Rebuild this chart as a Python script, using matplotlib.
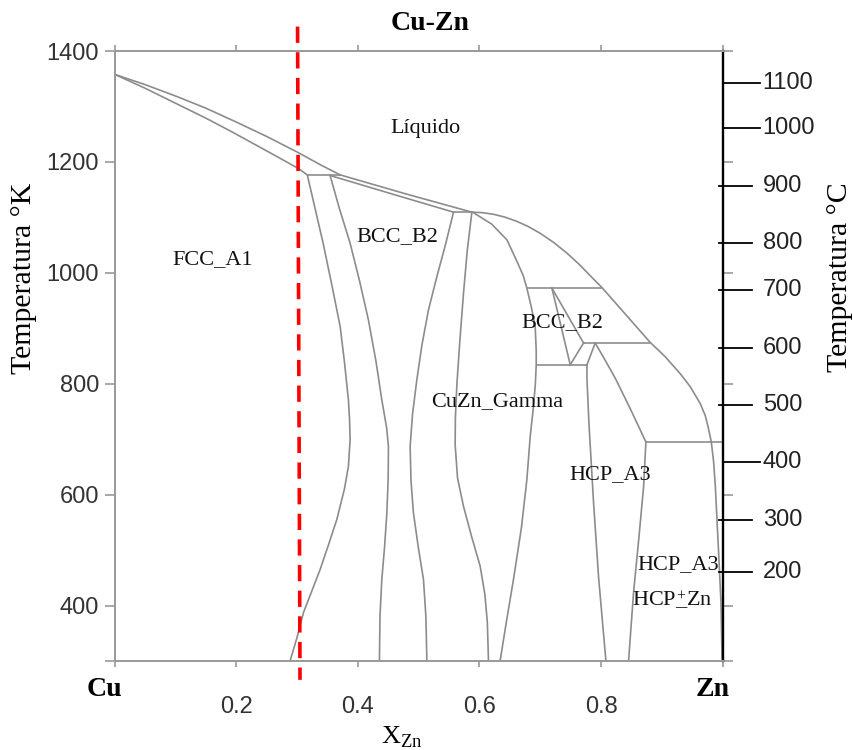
import numpy as np
import matplotlib
matplotlib.use("Agg")
import matplotlib.pyplot as plt

plt.rcParams['mathtext.fontset'] = 'custom'
plt.rcParams['mathtext.rm'] = 'Liberation Serif'

# ---- phase boundaries (x = mole fraction Zn, T in K) ----
fcc_liq_x = [0, 0.05, 0.10, 0.15, 0.20, 0.25, 0.30, 0.34, 0.371]
fcc_liq_T = [1358, 1339.5, 1319, 1297, 1272, 1246, 1218, 1194, 1176.6]
fcc_sol_x = [0, 0.05, 0.10, 0.15, 0.19, 0.25, 0.301, 0.317]
fcc_sol_T = [1358, 1333, 1306, 1279, 1256, 1220, 1189, 1176.6]

bcc_liq_x = [0.371, 0.48, 0.5876]
bcc_liq_T = [1176.6, 1142, 1109.4]
bcc_sol_x = [0.3545, 0.46, 0.5574]
bcc_sol_T = [1175.5, 1141, 1109.4]

gam_liq_x = [0.5876, 0.605, 0.623, 0.642, 0.6616, 0.680, 0.700, 0.722, 0.7439, 0.764, 0.7822,
             0.8014, 0.8809, 0.9056, 0.9302, 0.9467, 0.9632, 0.9714, 0.9763, 0.9812]
gam_liq_T = [1109.4, 1108.5, 1105.6, 1100.4, 1092.8, 1083.6, 1071.2, 1054.8, 1035.5, 1015.3, 994.8,
             973.5, 874.4, 848.6, 818, 794.6, 764, 742.3, 720.7, 695.5]

fcc_x = [0.317, 0.330, 0.343, 0.357, 0.371, 0.378, 0.3846, 0.3865, 0.3874, 0.3846, 0.378,
         0.3655, 0.352, 0.3381, 0.324, 0.3106, 0.300, 0.2887]
fcc_T = [1176.6, 1115, 1053.5, 980, 903.3, 840, 771, 735, 699, 651, 610,
         555, 510, 465, 425, 387, 342, 300]
bcc_left_x = [0.3545, 0.370, 0.3874, 0.403, 0.4175, 0.430, 0.4395, 0.4475, 0.4504, 0.4500,
              0.4478, 0.4440, 0.4395, 0.4365, 0.4356]
bcc_left_T = [1175.5, 1115, 1053.5, 985, 915, 840, 771, 720, 687, 630,
              567, 505, 447, 380, 300]
bcc_right_x = [0.5574, 0.544, 0.530, 0.5162, 0.5055, 0.4971, 0.4900, 0.4861, 0.4875, 0.4915,
               0.4995, 0.508, 0.5120, 0.5136]
bcc_right_T = [1109.4, 1050, 993, 933, 870, 807, 745, 687, 625, 567,
               505, 447, 380, 300]
gam_left_x = [0.5876, 0.5800, 0.5738, 0.5680, 0.5630, 0.5605, 0.5601, 0.5640, 0.5738, 0.5870,
              0.6012, 0.6090, 0.6130, 0.6149]
gam_left_T = [1109.4, 1040, 963, 880, 800, 740, 690, 630, 579, 525,
              471, 420, 370, 300]
gam_right_x = [0.5900, 0.620, 0.6452, 0.662, 0.672, 0.678, 0.686, 0.6917, 0.6934, 0.6934,
               0.6920, 0.6890, 0.6835, 0.678, 0.669, 0.656, 0.645, 0.634]
gam_right_T = [1108.5, 1088, 1059.5, 1020, 995, 972.4, 935, 903.3, 860, 834.2,
               800, 760, 705, 627, 540, 447, 375, 300]

eps_left_x = [0.7768, 0.7768, 0.7800, 0.7877, 0.7960, 0.808]
eps_left_T = [834.2, 810, 730, 585, 450, 300]
eps_diag_x = [0.7904, 0.808, 0.8233, 0.848, 0.8737]
eps_diag_T = [873.4, 840, 810, 755, 695]
eps_right_x = [0.8737, 0.870, 0.862, 0.8534, 0.8452]
eps_right_T = [695, 615, 520, 423, 300]
zn_x = [0.9812, 0.9850, 0.9879, 0.9933, 0.9972, 0.999]
zn_T = [695.5, 660, 615, 495, 405, 300]

delta_x = [[0.7192, 0.7493], [0.7192, 0.7712], [0.7712, 0.7493], [0.7904, 0.7768]]
delta_T = [[972.4, 834.2], [972.4, 873.4], [873.4, 834.2], [873.4, 834.2]]

# horizontal invariant lines: T, x from, x to
inv_T = [1176.6, 1109.4, 972.4, 873.4, 834.2, 695]
inv_x0 = [0.317, 0.5574, 0.678, 0.7712, 0.6934, 0.8737]
inv_x1 = [0.371, 0.5876, 0.8014, 0.8809, 0.7768, 1.0]

# red marker line
red_x = [0.301, 0.305]
red_T = [1444, 266]

# region labels
lab_text = ["Líquido", "FCC_A1", "BCC_B2", "BCC_B2", "CuZn_Gamma", "HCP_A3", "HCP_A3",
            r"$\mathrm{HCP}\overset{+}{\_}\mathrm{Zn}$"]
lab_x = [0.511, 0.161, 0.4655, 0.737, 0.6287, 0.8151, 0.926, 0.917]
lab_T = [1261, 1023, 1065, 911, 767, 636, 473, 411]

# Celsius scale on the right (positions as drawn, in K)
c_labels = ['1100', '1000', '900', '800', '700', '600', '500', '400', '300', '200']
c_pos_K = [1341.8, 1260.7, 1157.3, 1054.6, 969.4, 864.3, 762.2, 658.2, 555, 460.7]
c_long = [True, True, False, False, False, False, False, True, False, False]

k_ticks = [300, 400, 600, 800, 1000, 1200, 1400]
x_ticks = [0, 0.2, 0.4, 0.6, 0.8, 1.0]

fig = plt.figure(figsize=(8.54, 7.5), dpi=100)
ax = fig.add_axes([114.5/854, 1-661/750, 608.2/854, 610/750])

lc = '#8c8c8c'
lw = 1.2
curves = [(fcc_liq_x, fcc_liq_T), (fcc_sol_x, fcc_sol_T), (bcc_liq_x, bcc_liq_T),
          (bcc_sol_x, bcc_sol_T), (gam_liq_x, gam_liq_T), (fcc_x, fcc_T),
          (bcc_left_x, bcc_left_T), (bcc_right_x, bcc_right_T), (gam_left_x, gam_left_T),
          (gam_right_x, gam_right_T), (eps_left_x, eps_left_T), (eps_diag_x, eps_diag_T),
          (eps_right_x, eps_right_T), (zn_x, zn_T)]
for cx, cT in curves:
    ax.plot(cx, cT, color=lc, lw=lw, solid_joinstyle='round')
for cx, cT in zip(delta_x, delta_T):
    ax.plot(cx, cT, color=lc, lw=lw)
ax.hlines(inv_T, inv_x0, inv_x1, color=lc, lw=lw)

ax.plot(red_x, red_T, color='#ff0000', lw=2.6, dashes=(4.5, 2.6), clip_on=False, zorder=5)

for t, x, T in zip(lab_text, lab_x, lab_T):
    ax.text(x, T, t, fontsize=16, family='Liberation Serif', ha='center', va='center', color='#111111')

ax.set_xlim(0, 1)
ax.set_ylim(300, 1400)

for s in ['left', 'top', 'bottom']:
    ax.spines[s].set_color('#999999')
    ax.spines[s].set_linewidth(1.4)
ax.spines['right'].set_color('black')
ax.spines['right'].set_linewidth(1.7)

ax.set_yticks(k_ticks)
ax.set_yticklabels([''] + [str(k) for k in k_ticks[1:]])
ax.set_xticks(x_ticks)
ax.set_xticklabels([''] + ['0.2', '0.4', '0.6', '0.8'] + [''])
ax.tick_params(axis='y', left=True, right=True, direction='out', length=7, width=1.2,
               color='#999999', labelsize=17, labelcolor='#333333', pad=4)
ax.tick_params(axis='x', bottom=True, top=True, direction='out', length=4, width=1.2,
               color='#999999', labelsize=17, labelcolor='#333333', pad=21)
for lab in ax.get_xticklabels() + ax.get_yticklabels():
    lab.set_family('Liberation Sans')

# Celsius ticks drawn against the right spine
px = 1.0 / 608.2
for lbl, pos, lng in zip(c_labels, c_pos_K, c_long):
    if lng:
        ax.plot([1, 1 + 37*px], [pos, pos], color='black', lw=1.3,
                transform=ax.get_yaxis_transform(), clip_on=False)
    else:
        ax.plot([1 - 4*px, 1 + 29*px], [pos, pos], color='black', lw=1.3,
                transform=ax.get_yaxis_transform(), clip_on=False)
    ax.text(1 + 40*px, pos, lbl, transform=ax.get_yaxis_transform(), fontsize=17,
            family='Liberation Sans', color='#222222', ha='left', va='center')

fig.text(430/854, 1-23/750, 'Cu-Zn', fontsize=20, fontweight='bold', family='Liberation Serif',
         ha='center', va='center')
fig.text(104/854, 1-690/750, 'Cu', fontsize=20, fontweight='bold', family='Liberation Serif',
         ha='center', va='center')
fig.text(713/854, 1-690/750, 'Zn', fontsize=20, fontweight='bold', family='Liberation Serif',
         ha='center', va='center')
fig.text(402/854, 1-737/750, r'$\mathrm{X}_{\mathrm{Zn}}$', fontsize=19, ha='center', va='center')
fig.text(24/854, 1-278/750, 'Temperatura °K', fontsize=21.5, family='Liberation Serif',
         rotation=90, ha='center', va='center')
fig.text(840/854, 1-277/750, 'Temperatura °C', fontsize=21.5, family='Liberation Serif',
         rotation=90, ha='center', va='center')

plt.savefig('out.png', dpi=100)
